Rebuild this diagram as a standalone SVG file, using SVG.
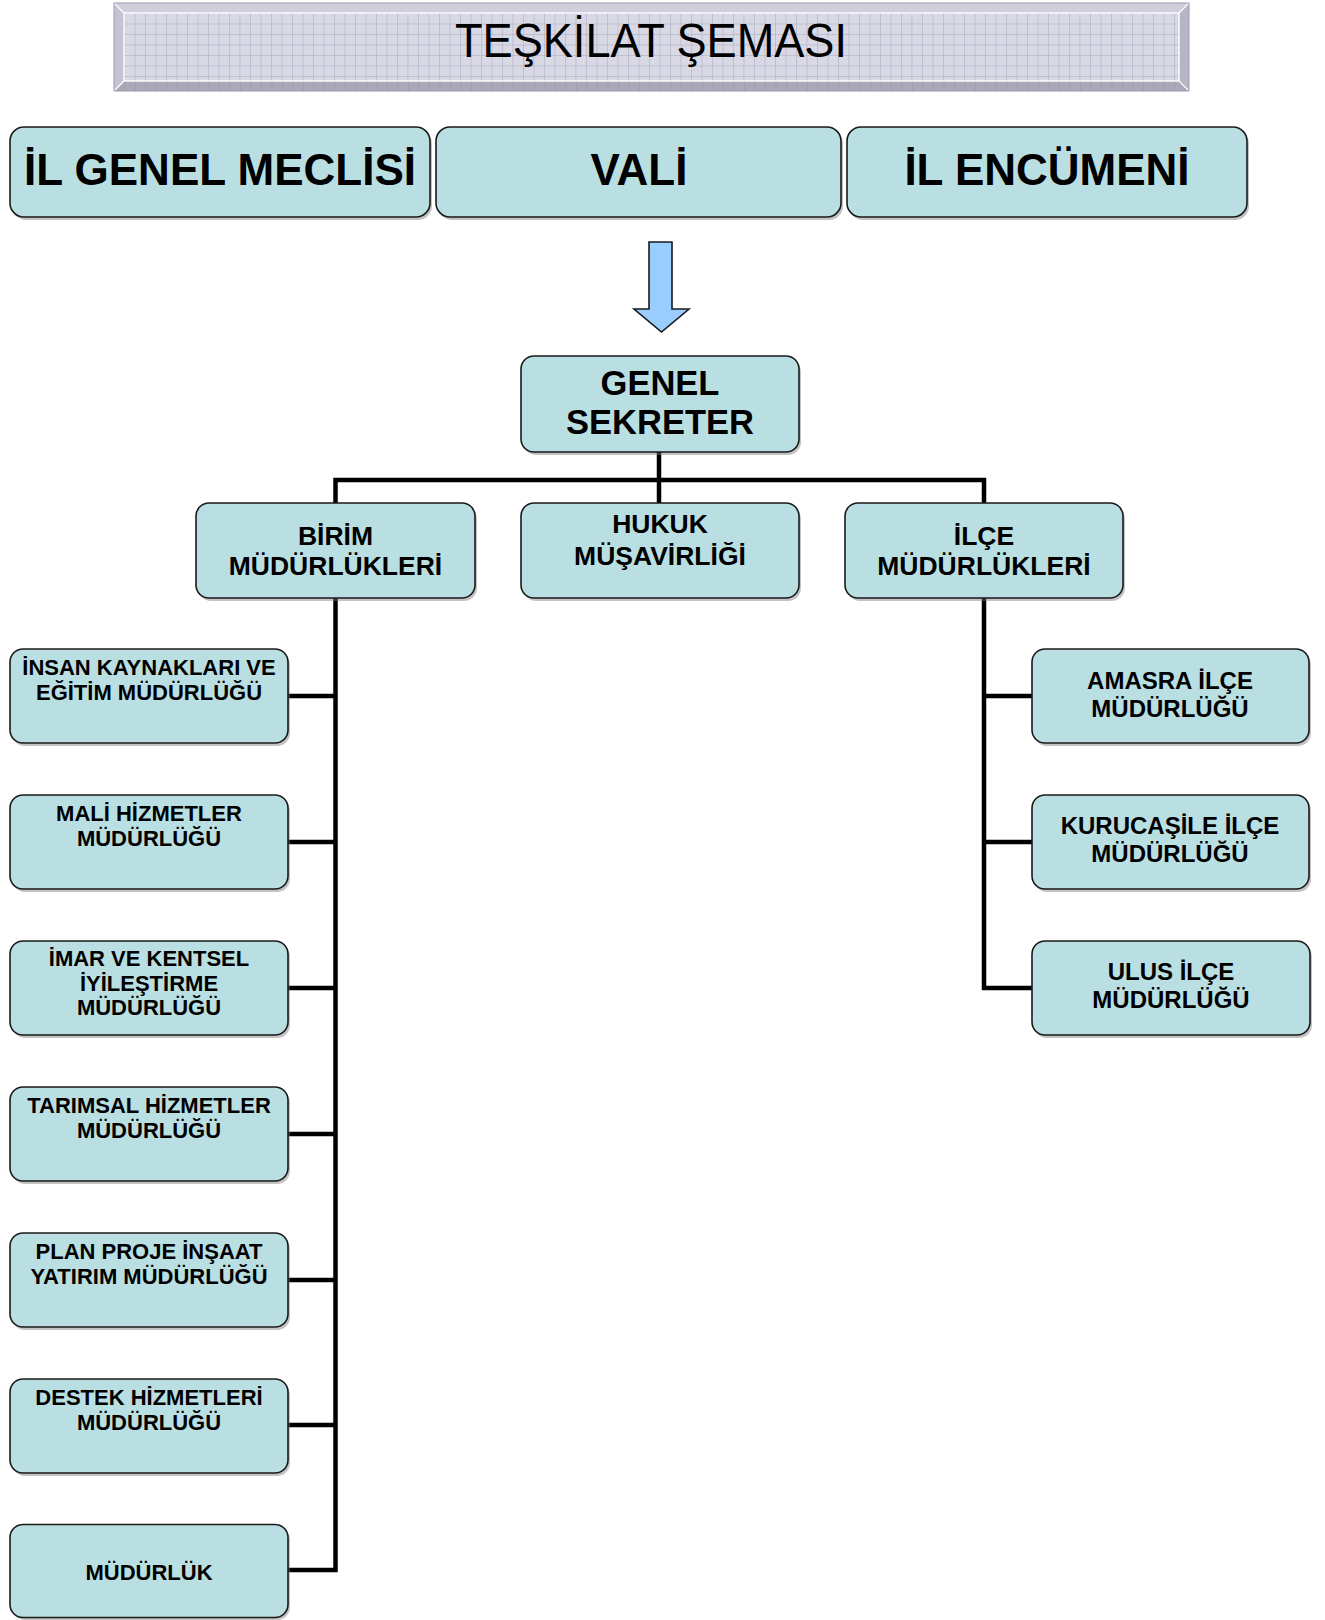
<svg xmlns="http://www.w3.org/2000/svg" width="1325" height="1620" viewBox="0 0 1325 1620">
<defs>
<pattern id="grid" x="124" y="13" width="10.5" height="10.5" patternUnits="userSpaceOnUse">
<rect width="10.5" height="10.5" fill="#d9d9e6"/>
<path d="M0,0.4 H10.5 M0.4,0 V10.5" stroke="#b6b6ca" stroke-width="0.8" fill="none"/>
</pattern>
<pattern id="gridDark" x="114" y="3" width="10.5" height="10.5" patternUnits="userSpaceOnUse">
<rect width="10.5" height="10.5" fill="#a9a9b9"/>
<path d="M0.4,0 V10.5" stroke="#9a9aac" stroke-width="0.8" fill="none"/>
</pattern>
</defs>
<style>
.box{fill:#badfe3;stroke:#1a1a1a;stroke-width:1.6}
.shadow{fill:#7a7a7a;opacity:0.45}
.t{font-family:"Liberation Sans",Arial,sans-serif;font-weight:bold;fill:#000;text-anchor:middle}
.big{font-size:44px}
.mid{font-size:26.5px}
.sm{font-size:22px}
.rs{font-size:24px}
.conn{fill:none;stroke:#000;stroke-width:4.5;stroke-linejoin:miter;stroke-linecap:butt}
</style>

<g id="title">
<polygon points="114,3 1189,3 1179,13 124,13" fill="#cfcfdc"/>
<polygon points="114,3 124,13 124,81 114,91" fill="#c4c4d2"/>
<polygon points="1189,3 1189,91 1179,81 1179,13" fill="#b5b5c5"/>
<polygon points="114,91 124,81 1179,81 1189,91" fill="url(#gridDark)"/>
<rect x="124" y="13" width="1055" height="68" fill="url(#grid)"/>
<path d="M114,3 L124,13 M1189,3 L1179,13 M114,91 L124,81 M1189,91 L1179,81" stroke="#ffffff" stroke-width="1.2"/>
<rect x="124" y="13" width="1055" height="68" fill="none" stroke="#ffffff" stroke-width="1.4"/>
<rect x="114" y="3" width="1075" height="88" fill="none" stroke="#9c9cae" stroke-width="1"/>
<text x="651" y="57" font-family="Liberation Sans,Arial,sans-serif" font-size="48" textLength="392" lengthAdjust="spacingAndGlyphs" text-anchor="middle" fill="#000">TEŞKİLAT ŞEMASI</text>
</g>

<g id="il-genel-meclisi">
<rect class="shadow" x="12" y="130" width="420" height="90" rx="14"/>
<rect class="box" x="10" y="127" width="420" height="90" rx="14"/>
<text class="t big" x="220" y="185">İL GENEL MECLİSİ</text>
</g>
<g id="vali">
<rect class="shadow" x="438" y="130" width="405" height="90" rx="14"/>
<rect class="box" x="436" y="127" width="405" height="90" rx="14"/>
<text class="t big" x="639" y="185">VALİ</text>
</g>
<g id="il-encumeni">
<rect class="shadow" x="849" y="130" width="400" height="90" rx="14"/>
<rect class="box" x="847" y="127" width="400" height="90" rx="14"/>
<text class="t big" x="1047" y="185">İL ENCÜMENİ</text>
</g>

<g id="arrow">
<polygon points="649,242 672,242 672,309 689,309 661.5,332 634,309 649,309" fill="#99ccff" stroke="#1a1a1a" stroke-width="1.6" stroke-linejoin="miter"/>
</g>

<g id="connectors">
<path class="conn" d="M659,452 V503"/>
<path class="conn" d="M335.5,503 V480 H984 V503"/>
<path class="conn" d="M335.5,598 V1570 H288"/>
<path class="conn" d="M288,696 H335.5 M288,842 H335.5 M288,988 H335.5 M288,1134 H335.5 M288,1280 H335.5 M288,1425 H335.5"/>
<path class="conn" d="M984,598 V988 H1032"/>
<path class="conn" d="M984,696 H1032 M984,842 H1032"/>
</g>

<g id="genel-sekreter">
<rect class="shadow" x="523" y="359" width="278" height="96" rx="13"/>
<rect class="box" x="521" y="356" width="278" height="96" rx="13"/>
<text class="t" font-size="34.5" x="660" y="395">GENEL</text>
<text class="t" font-size="34.5" x="660" y="434">SEKRETER</text>
</g>

<g id="birim-mudurlukleri">
<rect class="shadow" x="198" y="506" width="279" height="95" rx="13"/>
<rect class="box" x="196" y="503" width="279" height="95" rx="13"/>
<text class="t mid" x="335.5" y="545">BİRİM</text>
<text class="t mid" x="335.5" y="575">MÜDÜRLÜKLERİ</text>
</g>
<g id="hukuk-musavirligi">
<rect class="shadow" x="523" y="506" width="278" height="95" rx="13"/>
<rect class="box" x="521" y="503" width="278" height="95" rx="13"/>
<text class="t mid" x="660" y="533">HUKUK</text>
<text class="t mid" x="660" y="565">MÜŞAVİRLİĞİ</text>
</g>
<g id="ilce-mudurlukleri">
<rect class="shadow" x="847" y="506" width="278" height="95" rx="13"/>
<rect class="box" x="845" y="503" width="278" height="95" rx="13"/>
<text class="t mid" x="984" y="545">İLÇE</text>
<text class="t mid" x="984" y="575">MÜDÜRLÜKLERİ</text>
</g>

<g id="insan-kaynaklari">
<rect class="shadow" x="12" y="652" width="278" height="94" rx="13"/>
<rect class="box" x="10" y="649" width="278" height="94" rx="13"/>
<text class="t sm" x="149" y="675">İNSAN KAYNAKLARI VE</text>
<text class="t sm" x="149" y="700">EĞİTİM MÜDÜRLÜĞÜ</text>
</g>
<g id="mali-hizmetler">
<rect class="shadow" x="12" y="798" width="278" height="94" rx="13"/>
<rect class="box" x="10" y="795" width="278" height="94" rx="13"/>
<text class="t sm" x="149" y="821">MALİ HİZMETLER</text>
<text class="t sm" x="149" y="846">MÜDÜRLÜĞÜ</text>
</g>
<g id="imar">
<rect class="shadow" x="12" y="944" width="278" height="94" rx="13"/>
<rect class="box" x="10" y="941" width="278" height="94" rx="13"/>
<text class="t sm" x="149" y="966">İMAR VE KENTSEL</text>
<text class="t sm" x="149" y="991">İYİLEŞTİRME</text>
<text class="t sm" x="149" y="1015">MÜDÜRLÜĞÜ</text>
</g>
<g id="tarimsal">
<rect class="shadow" x="12" y="1090" width="278" height="94" rx="13"/>
<rect class="box" x="10" y="1087" width="278" height="94" rx="13"/>
<text class="t sm" x="149" y="1113">TARIMSAL HİZMETLER</text>
<text class="t sm" x="149" y="1138">MÜDÜRLÜĞÜ</text>
</g>
<g id="plan-proje">
<rect class="shadow" x="12" y="1236" width="278" height="94" rx="13"/>
<rect class="box" x="10" y="1233" width="278" height="94" rx="13"/>
<text class="t sm" x="149" y="1259">PLAN PROJE İNŞAAT</text>
<text class="t sm" x="149" y="1284">YATIRIM MÜDÜRLÜĞÜ</text>
</g>
<g id="destek">
<rect class="shadow" x="12" y="1382" width="278" height="94" rx="13"/>
<rect class="box" x="10" y="1379" width="278" height="94" rx="13"/>
<text class="t sm" x="149" y="1405">DESTEK HİZMETLERİ</text>
<text class="t sm" x="149" y="1430">MÜDÜRLÜĞÜ</text>
</g>
<g id="mudurluk">
<rect class="shadow" x="12" y="1527" width="278" height="93" rx="13"/>
<rect class="box" x="10" y="1524.5" width="278" height="93" rx="13"/>
<text class="t sm" x="149" y="1580">MÜDÜRLÜK</text>
</g>

<g id="amasra">
<rect class="shadow" x="1034" y="652" width="277" height="94" rx="13"/>
<rect class="box" x="1032" y="649" width="277" height="94" rx="13"/>
<text class="t rs" x="1170" y="689">AMASRA İLÇE</text>
<text class="t rs" x="1170" y="717">MÜDÜRLÜĞÜ</text>
</g>
<g id="kurucasile">
<rect class="shadow" x="1034" y="798" width="277" height="94" rx="13"/>
<rect class="box" x="1032" y="795" width="277" height="94" rx="13"/>
<text class="t rs" x="1170" y="834">KURUCAŞİLE İLÇE</text>
<text class="t rs" x="1170" y="862">MÜDÜRLÜĞÜ</text>
</g>
<g id="ulus">
<rect class="shadow" x="1034" y="944" width="278" height="94" rx="13"/>
<rect class="box" x="1032" y="941" width="278" height="94" rx="13"/>
<text class="t rs" x="1171" y="980">ULUS İLÇE</text>
<text class="t rs" x="1171" y="1008">MÜDÜRLÜĞÜ</text>
</g>
</svg>
